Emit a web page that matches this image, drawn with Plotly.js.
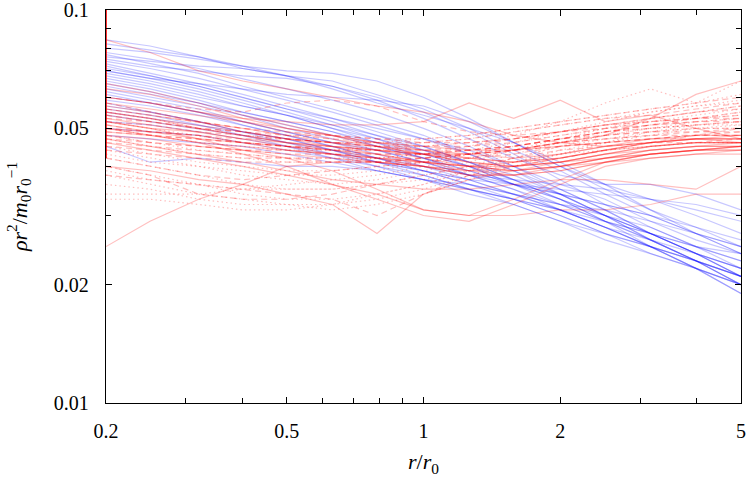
<!DOCTYPE html>
<html><head><meta charset="utf-8">
<script src="https://cdn.plot.ly/plotly-3.0.1.min.js"></script>
<style>html,body{margin:0;padding:0;background:#fff}#c{width:748px;height:480px}</style>
</head><body><div id="c"></div>
<script>
// radius grid r/r0
const r = [0.2,0.25,0.32,0.4,0.5,0.63,0.79,1.0,1.26,1.58,2.0,2.51,3.16,3.98,5.0];

// blue profiles (rho r^2 / m0 r0^-1)
const B1  = [0.084,0.081,0.076,0.071,0.068,0.064,0.060,0.055,0.049,0.043,0.037,0.032,0.028,0.025,0.022];
const B2  = [0.080,0.078,0.075,0.072,0.070,0.069,0.066,0.060,0.053,0.046,0.040,0.036,0.033,0.030,0.027];
const B3  = [0.078,0.075,0.071,0.067,0.063,0.059,0.055,0.050,0.045,0.040,0.035,0.031,0.027,0.024,0.021];
const B4  = [0.077,0.073,0.069,0.064,0.060,0.056,0.052,0.048,0.043,0.039,0.034,0.030,0.026,0.023,0.020];
const B5  = [0.075,0.072,0.070,0.068,0.067,0.064,0.059,0.053,0.047,0.042,0.038,0.036,0.036,0.034,0.031];
const B6  = [0.074,0.071,0.067,0.063,0.059,0.055,0.051,0.047,0.043,0.039,0.035,0.031,0.027,0.024,0.021];
const B7  = [0.073,0.069,0.065,0.061,0.057,0.053,0.049,0.045,0.041,0.037,0.033,0.029,0.025,0.022,0.019];
const B8  = [0.072,0.068,0.064,0.060,0.056,0.053,0.050,0.047,0.044,0.040,0.036,0.033,0.029,0.026,0.024];
const B9  = [0.071,0.068,0.064,0.060,0.056,0.052,0.048,0.044,0.041,0.037,0.034,0.030,0.027,0.024,0.021];
const B10 = [0.070,0.067,0.063,0.059,0.055,0.051,0.048,0.045,0.041,0.038,0.034,0.030,0.026,0.023,0.020];
const B11 = [0.069,0.066,0.062,0.058,0.054,0.051,0.047,0.043,0.040,0.036,0.033,0.030,0.028,0.025,0.023];
const B12 = [0.068,0.065,0.061,0.057,0.054,0.050,0.047,0.044,0.040,0.037,0.033,0.029,0.026,0.023,0.020];
const B13 = [0.067,0.064,0.060,0.057,0.054,0.050,0.046,0.042,0.039,0.036,0.034,0.032,0.030,0.028,0.026];
const B14 = [0.066,0.063,0.059,0.055,0.052,0.049,0.046,0.043,0.040,0.036,0.032,0.029,0.026,0.023,0.021];
const B15 = [0.065,0.062,0.058,0.055,0.052,0.049,0.045,0.042,0.039,0.036,0.033,0.030,0.027,0.024,0.022];
const B16 = [0.064,0.061,0.058,0.054,0.051,0.048,0.045,0.042,0.038,0.035,0.031,0.028,0.025,0.022,0.020];
const B17 = [0.063,0.060,0.057,0.054,0.050,0.047,0.044,0.041,0.038,0.035,0.032,0.030,0.027,0.025,0.023];
const B18 = [0.062,0.059,0.056,0.052,0.049,0.046,0.043,0.040,0.037,0.034,0.031,0.028,0.025,0.022,0.019];
const B19 = [0.061,0.058,0.055,0.052,0.049,0.046,0.044,0.041,0.038,0.036,0.034,0.032,0.030,0.027,0.025];
const B20 = [0.060,0.058,0.055,0.051,0.048,0.045,0.042,0.039,0.036,0.033,0.030,0.027,0.024,0.022,0.020];
const B21 = [0.059,0.057,0.054,0.051,0.048,0.045,0.042,0.040,0.038,0.037,0.036,0.035,0.033,0.031,0.029];
const B22 = [0.058,0.055,0.052,0.049,0.047,0.044,0.042,0.039,0.037,0.034,0.031,0.028,0.025,0.023,0.021];
const B23 = [0.057,0.055,0.052,0.049,0.046,0.044,0.041,0.039,0.036,0.034,0.032,0.029,0.027,0.024,0.022];
const B24 = [0.056,0.054,0.051,0.048,0.046,0.043,0.041,0.038,0.035,0.032,0.029,0.026,0.024,0.022,0.020];
const B25 = [0.055,0.053,0.051,0.049,0.047,0.044,0.041,0.039,0.037,0.036,0.035,0.034,0.033,0.032,0.030];
const B26 = [0.054,0.052,0.050,0.048,0.045,0.043,0.040,0.038,0.035,0.033,0.030,0.027,0.025,0.023,0.021];
const B27 = [0.052,0.051,0.049,0.047,0.045,0.042,0.040,0.037,0.035,0.033,0.031,0.028,0.026,0.024,0.022];
const B28 = [0.050,0.049,0.048,0.046,0.044,0.042,0.039,0.037,0.034,0.032,0.029,0.027,0.025,0.023,0.021];
const B29 = [0.048,0.047,0.046,0.045,0.043,0.041,0.039,0.037,0.036,0.034,0.032,0.031,0.029,0.027,0.025];
const B30 = [0.045,0.041,0.042,0.041,0.040,0.040,0.039,0.037,0.035,0.033,0.031,0.029,0.027,0.025,0.024];
const B31 = [0.076,0.074,0.072,0.071,0.068,0.063,0.058,0.054,0.050,0.046,0.041,0.036,0.031,0.027,0.024];
const B32 = [0.082,0.079,0.076,0.072,0.068,0.066,0.061,0.056,0.050,0.044,0.039,0.034,0.030,0.027,0.024];
const B33 = [0.070,0.067,0.065,0.063,0.061,0.060,0.059,0.057,0.052,0.046,0.040,0.035,0.031,0.028,0.025];

// red solid profiles
const R1  = [0.084,0.078,0.070,0.066,0.063,0.060,0.057,0.055,0.052,0.048,0.046,0.045,0.046,0.047,0.047];
const R2  = [0.060,0.058,0.055,0.053,0.052,0.051,0.051,0.052,0.058,0.053,0.059,0.052,0.054,0.050,0.047];
const R3  = [0.055,0.053,0.050,0.048,0.046,0.045,0.044,0.043,0.043,0.044,0.046,0.048,0.053,0.061,0.066];
const R4  = [0.046,0.044,0.042,0.040,0.038,0.036,0.034,0.031,0.030,0.030,0.031,0.031,0.032,0.034,0.034];
const R5  = [0.050,0.048,0.046,0.043,0.040,0.036,0.033,0.030,0.029,0.032,0.036,0.040,0.042,0.043,0.044];
const R6  = [0.052,0.050,0.047,0.044,0.042,0.039,0.035,0.031,0.030,0.033,0.037,0.041,0.043,0.044,0.045];
const R7  = [0.047,0.045,0.043,0.041,0.039,0.037,0.036,0.035,0.035,0.036,0.037,0.037,0.036,0.035,0.040];
const R8  = [0.040,0.039,0.037,0.036,0.034,0.032,0.027,0.034,0.037,0.039,0.041,0.042,0.043,0.044,0.045];
const R9  = [0.025,0.029,0.033,0.036,0.040,0.041,0.041,0.040,0.039,0.040,0.042,0.044,0.045,0.046,0.046];
const R10 = [0.060,0.058,0.055,0.052,0.050,0.048,0.046,0.044,0.042,0.041,0.042,0.044,0.046,0.047,0.047];
const R11 = [0.058,0.056,0.054,0.052,0.049,0.047,0.045,0.043,0.041,0.040,0.041,0.043,0.045,0.046,0.046];
const R12 = [0.056,0.054,0.052,0.050,0.048,0.046,0.044,0.042,0.040,0.039,0.040,0.042,0.044,0.045,0.045];
const R13 = [0.055,0.053,0.051,0.049,0.047,0.045,0.043,0.041,0.039,0.038,0.039,0.041,0.043,0.044,0.044];
const R14 = [0.054,0.052,0.050,0.048,0.046,0.045,0.044,0.043,0.042,0.041,0.042,0.044,0.046,0.047,0.048];
const R15 = [0.053,0.051,0.049,0.047,0.046,0.044,0.043,0.041,0.040,0.039,0.040,0.041,0.042,0.043,0.043];
const R16 = [0.052,0.050,0.049,0.047,0.045,0.044,0.042,0.041,0.040,0.040,0.041,0.043,0.045,0.046,0.046];
const R17 = [0.051,0.049,0.048,0.046,0.045,0.043,0.042,0.040,0.039,0.039,0.040,0.042,0.043,0.044,0.045];
const R18 = [0.050,0.049,0.047,0.046,0.044,0.043,0.041,0.040,0.038,0.038,0.039,0.041,0.043,0.044,0.044];
const R19 = [0.049,0.048,0.046,0.045,0.044,0.043,0.042,0.041,0.040,0.041,0.043,0.045,0.046,0.047,0.047];
const R20 = [0.057,0.055,0.052,0.049,0.047,0.046,0.045,0.044,0.043,0.042,0.043,0.045,0.047,0.048,0.048];
const R21 = [0.065,0.062,0.058,0.054,0.051,0.048,0.045,0.043,0.041,0.040,0.041,0.043,0.044,0.045,0.045];
const R22 = [0.048,0.047,0.045,0.044,0.043,0.042,0.041,0.040,0.038,0.038,0.040,0.042,0.044,0.045,0.046];
const R23 = [0.063,0.061,0.057,0.053,0.050,0.048,0.046,0.045,0.044,0.044,0.045,0.046,0.047,0.047,0.046];

// red dashed profiles
const D1  = [0.060,0.058,0.056,0.055,0.058,0.059,0.057,0.052,0.049,0.048,0.049,0.051,0.053,0.055,0.057];
const D2  = [0.056,0.054,0.052,0.050,0.049,0.048,0.047,0.046,0.046,0.047,0.049,0.051,0.053,0.055,0.056];
const D3  = [0.054,0.052,0.050,0.049,0.047,0.046,0.045,0.045,0.045,0.046,0.048,0.050,0.052,0.053,0.054];
const D4  = [0.052,0.051,0.049,0.048,0.047,0.046,0.045,0.044,0.044,0.045,0.047,0.049,0.050,0.051,0.052];
const D5  = [0.051,0.049,0.048,0.046,0.045,0.044,0.044,0.043,0.043,0.044,0.046,0.048,0.049,0.050,0.050];
const D6  = [0.050,0.048,0.047,0.046,0.045,0.044,0.043,0.043,0.044,0.045,0.047,0.048,0.049,0.049,0.049];
const D7  = [0.049,0.048,0.047,0.046,0.045,0.045,0.044,0.044,0.045,0.047,0.049,0.051,0.052,0.053,0.053];
const D8  = [0.048,0.046,0.045,0.044,0.043,0.043,0.042,0.042,0.043,0.044,0.046,0.047,0.048,0.049,0.050];
const D9  = [0.047,0.046,0.045,0.044,0.044,0.043,0.043,0.043,0.044,0.045,0.047,0.049,0.051,0.052,0.052];
const D10 = [0.046,0.045,0.044,0.043,0.042,0.042,0.041,0.041,0.042,0.043,0.045,0.046,0.047,0.048,0.048];
const D11 = [0.045,0.044,0.043,0.042,0.042,0.041,0.041,0.042,0.043,0.045,0.047,0.049,0.051,0.053,0.055];
const D12 = [0.042,0.040,0.038,0.037,0.038,0.039,0.040,0.041,0.042,0.044,0.046,0.047,0.048,0.048,0.048];
const D13 = [0.040,0.038,0.034,0.033,0.033,0.034,0.036,0.038,0.040,0.042,0.044,0.045,0.046,0.046,0.047];
const D14 = [0.038,0.037,0.036,0.035,0.034,0.033,0.030,0.034,0.038,0.040,0.042,0.044,0.046,0.048,0.050];
const D15 = [0.053,0.052,0.050,0.049,0.048,0.048,0.047,0.047,0.048,0.050,0.052,0.054,0.056,0.058,0.060];
const D16 = [0.058,0.055,0.052,0.050,0.048,0.047,0.046,0.045,0.046,0.047,0.049,0.050,0.051,0.052,0.053];
const D17 = [0.044,0.043,0.042,0.041,0.041,0.041,0.041,0.042,0.043,0.044,0.045,0.046,0.047,0.048,0.049];
const D18 = [0.050,0.049,0.048,0.047,0.047,0.046,0.046,0.046,0.047,0.049,0.051,0.053,0.054,0.056,0.058];

// red dotted profiles
const T1  = [0.042,0.040,0.038,0.036,0.035,0.035,0.036,0.038,0.040,0.043,0.046,0.049,0.051,0.053,0.055];
const T2  = [0.040,0.038,0.036,0.034,0.033,0.033,0.034,0.036,0.039,0.042,0.045,0.048,0.050,0.052,0.053];
const T3  = [0.038,0.036,0.034,0.033,0.032,0.032,0.033,0.035,0.038,0.041,0.044,0.046,0.048,0.050,0.051];
const T4  = [0.036,0.035,0.033,0.032,0.032,0.031,0.032,0.034,0.037,0.040,0.043,0.046,0.049,0.051,0.052];
const T5  = [0.033,0.033,0.032,0.031,0.031,0.032,0.034,0.036,0.039,0.042,0.045,0.047,0.049,0.050,0.050];
const T6  = [0.045,0.043,0.041,0.040,0.039,0.039,0.040,0.041,0.043,0.046,0.049,0.052,0.055,0.057,0.058];
const T7  = [0.047,0.045,0.043,0.042,0.041,0.041,0.042,0.043,0.045,0.048,0.052,0.058,0.063,0.058,0.066];
const T8  = [0.050,0.048,0.046,0.045,0.044,0.044,0.045,0.046,0.047,0.049,0.051,0.053,0.055,0.057,0.059];
const T9  = [0.043,0.041,0.040,0.039,0.038,0.038,0.039,0.041,0.043,0.045,0.047,0.049,0.050,0.051,0.052];
const T10 = [0.048,0.046,0.044,0.043,0.042,0.042,0.042,0.043,0.044,0.046,0.048,0.050,0.052,0.054,0.056];
const T11 = [0.034,0.034,0.034,0.035,0.036,0.037,0.038,0.040,0.042,0.044,0.046,0.048,0.050,0.051,0.051];
const T12 = [0.052,0.050,0.048,0.046,0.045,0.044,0.044,0.045,0.046,0.047,0.049,0.051,0.052,0.053,0.054];
const T13 = [0.039,0.037,0.036,0.035,0.035,0.035,0.036,0.037,0.039,0.041,0.043,0.044,0.045,0.046,0.046];
const T14 = [0.044,0.042,0.040,0.038,0.037,0.036,0.037,0.039,0.041,0.044,0.047,0.050,0.053,0.055,0.057];
const T15 = [0.055,0.053,0.050,0.048,0.047,0.046,0.046,0.047,0.048,0.050,0.052,0.054,0.056,0.058,0.061];

// red profile entering from inside r<0.2, seen only at the edge
const rimR = [0.2,0.2];
const rimV = [0.1,0.042];

const blueSet = [B1,B2,B3,B4,B5,B6,B7,B8,B9,B10,B11,B12,B13,B14,B15,B16,B17,B18,B19,B20,B21,B22,B23,B24,B25,B26,B27,B28,B29,B30,B31,B32,B33];
const redSolid = [R1,R2,R3,R4,R5,R6,R7,R8,R9,R10,R11,R12,R13,R14,R15,R16,R17,R18,R19,R20,R21,R22,R23];
const redDash = [D1,D2,D3,D4,D5,D6,D7,D8,D9,D10,D11,D12,D13,D14,D15,D16,D17,D18];
const redDot = [T1,T2,T3,T4,T5,T6,T7,T8,T9,T10,T11,T12,T13,T14,T15];

const BLUE = 'rgba(0,0,255,0.22)';
const RED = 'rgba(255,0,0,0.25)';
const traces = [];
blueSet.forEach(v => traces.push({x:r, y:v, mode:'lines', line:{color:BLUE, width:1.2}}));
redDot.forEach(v => traces.push({x:r, y:v, mode:'lines', line:{color:RED, width:1.2, dash:'1.5px,3px'}}));
redDash.forEach(v => traces.push({x:r, y:v, mode:'lines', line:{color:RED, width:1.2, dash:'6px,4px'}}));
redSolid.forEach(v => traces.push({x:r, y:v, mode:'lines', line:{color:RED, width:1.2}}));
traces.push({x:rimR, y:rimV, mode:'lines', line:{color:'rgba(255,0,0,0.8)', width:2}});

const font = {family:'Liberation Serif, DejaVu Serif, serif', size:20, color:'#000'};
const titleFont = {family:'Liberation Serif, DejaVu Serif, serif', size:22, color:'#000'};
const layout = {
  width:748, height:480, showlegend:false,
  paper_bgcolor:'#fff', plot_bgcolor:'#fff',
  margin:{l:106, r:7, t:10, b:77},
  font:font,
  xaxis:{type:'log', range:[Math.log10(0.2), Math.log10(5)],
    tickvals:[0.2,0.5,1,2,5], ticktext:['0.2','0.5','1','2','5'],
    ticks:'inside', ticklen:6, tickwidth:1, tickcolor:'#000',
    minor:{tickvals:[0.3,0.4,0.6,0.7,0.8,0.9,3,4], ticks:'inside', ticklen:5, tickcolor:'#000', showgrid:false},
    showline:true, linecolor:'#000', linewidth:1.2, mirror:'ticks',
    showgrid:false, zeroline:false, ticklabelstandoff:10, ticklabeloverflow:'allow',
    tickfont:font,
    title:{text:'<i>r</i>/<i>r</i><sub>0</sub>', font:titleFont, standoff:12}},
  yaxis:{type:'log', range:[-2.0002,-0.9998],
    tickvals:[0.01,0.02,0.05,0.1], ticktext:['0.01','0.02','0.05','0.1'],
    ticks:'inside', ticklen:6, tickwidth:1, tickcolor:'#000',
    minor:{tickvals:[0.03,0.04,0.06,0.07,0.08,0.09], ticks:'inside', ticklen:5, tickcolor:'#000', showgrid:false},
    showline:true, linecolor:'#000', linewidth:1.2, mirror:'ticks',
    showgrid:false, zeroline:false, ticklabelstandoff:12, ticklabeloverflow:'allow',
    tickfont:font,
    title:{text:'<i>ρr</i><sup>2</sup>/<i>m</i><sub>0</sub><i>r</i><sub>0</sub><sup>−1</sup>', font:titleFont, standoff:20}}
};
Plotly.newPlot('c', traces, layout, {staticPlot:true, displayModeBar:false});
</script></body></html>
